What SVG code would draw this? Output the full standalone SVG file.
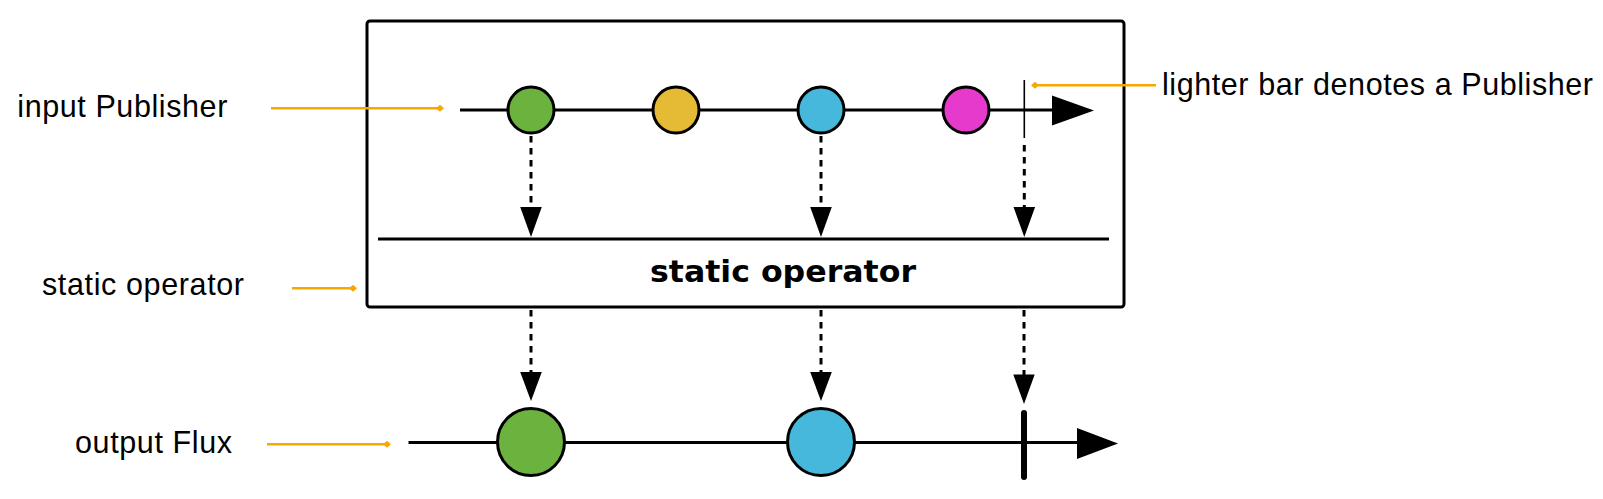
<svg xmlns="http://www.w3.org/2000/svg" width="1603" height="499" viewBox="0 0 1603 499">
<style>
.lbl{font-family:"Liberation Sans",Arial,sans-serif;font-size:30.5px;fill:#000}
.op{font-family:"DejaVu Sans",Verdana,sans-serif;font-size:31px;font-weight:bold;fill:#000}
.ptr{stroke:#F6A800;stroke-width:2.6;fill:none}
.tl{stroke:#000;stroke-width:3;fill:none}
.dash{stroke:#000;stroke-width:3;stroke-dasharray:6.5 5.5;fill:none}
.ah{fill:#000;stroke:none}
.m{stroke:#000;stroke-width:3}
</style>
<defs>
<marker id="dia" viewBox="-4 -3.5 8 7" markerWidth="8" markerHeight="7" markerUnits="userSpaceOnUse" orient="auto">
<path d="M-4 0 L0 -3.5 L4 0 L0 3.5 Z" fill="#F6A800"/>
</marker>
</defs>
<rect width="1603" height="499" fill="#fff"/>

<g id="operator-box">
<rect x="367" y="21" width="757" height="286" rx="3" fill="#fff" stroke="#000" stroke-width="3"/>
<line x1="378" y1="239" x2="1109" y2="239" class="tl"/>
<text x="650" y="282" class="op" textLength="266" lengthAdjust="spacingAndGlyphs">static operator</text>
</g>

<g id="input-timeline">
<line x1="460" y1="110" x2="1056" y2="110" class="tl"/>
<polygon points="1052,95.5 1094,110.5 1052,125.5" class="ah"/>
<line x1="1024.3" y1="80" x2="1024.3" y2="138" stroke="#000" stroke-width="1.6"/>
</g>

<g id="input-marbles">
<circle cx="531" cy="110" r="23" fill="#6CB23E" class="m"/>
<circle cx="676" cy="110" r="23" fill="#E5BA34" class="m"/>
<circle cx="821" cy="110" r="23" fill="#45B8DC" class="m"/>
<circle cx="966" cy="110" r="23" fill="#E63ACD" class="m"/>
</g>

<g id="output-timeline">
<line x1="408.5" y1="442.5" x2="1080" y2="442.5" class="tl"/>
<polygon points="1077,428 1118,443.5 1077,459" class="ah"/>
<line x1="1024" y1="413" x2="1024" y2="477" stroke="#000" stroke-width="6" stroke-linecap="round"/>
</g>

<g id="output-marbles">
<circle cx="531" cy="442" r="33.5" fill="#6CB23E" class="m"/>
<circle cx="821" cy="442" r="33.5" fill="#45B8DC" class="m"/>
</g>

<g id="connectors">
<line x1="531" y1="136" x2="531" y2="210" class="dash"/>
<polygon points="520.2,207 541.8,207 531,237" class="ah"/>
<line x1="821" y1="136" x2="821" y2="210" class="dash"/>
<polygon points="810.2,207 831.8,207 821,237" class="ah"/>
<line x1="1024.3" y1="145" x2="1024.3" y2="210" class="dash"/>
<polygon points="1013.5,207 1035.1,207 1024.3,237" class="ah"/>

<line x1="531" y1="310" x2="531" y2="375" class="dash"/>
<polygon points="520.2,372 541.8,372 531,401" class="ah"/>
<line x1="821" y1="310" x2="821" y2="375" class="dash"/>
<polygon points="810.2,372 831.8,372 821,401" class="ah"/>
<line x1="1024" y1="310" x2="1024" y2="377" class="dash"/>
<polygon points="1013.3,374.5 1034.7,374.5 1024,404" class="ah"/>
</g>

<g id="annotations">
<line x1="271" y1="108.3" x2="440" y2="108.3" class="ptr" marker-end="url(#dia)"/>
<line x1="292" y1="288.3" x2="353" y2="288.3" class="ptr" marker-end="url(#dia)"/>
<line x1="267" y1="444.3" x2="387" y2="444.3" class="ptr" marker-end="url(#dia)"/>
<line x1="1156" y1="85.3" x2="1035" y2="85.3" class="ptr" marker-end="url(#dia)"/>
</g>

<g id="labels">
<text x="17.3" y="117.3" class="lbl" textLength="210" lengthAdjust="spacing">input Publisher</text>
<text x="42" y="295" class="lbl" textLength="202" lengthAdjust="spacing">static operator</text>
<text x="75" y="452.7" class="lbl" textLength="157" lengthAdjust="spacing">output Flux</text>
<text x="1162" y="95" class="lbl" textLength="431" lengthAdjust="spacing">lighter bar denotes a Publisher</text>
</g>
</svg>
